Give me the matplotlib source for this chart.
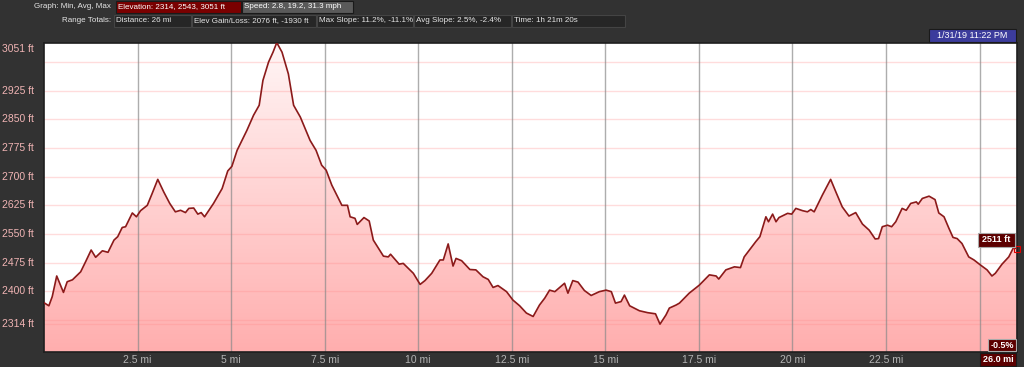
import matplotlib
matplotlib.use('Agg')
import matplotlib.pyplot as plt
import numpy as np
from matplotlib.patches import Rectangle, Polygon
from matplotlib.colors import LinearSegmentedColormap
import matplotlib.transforms as mtransforms

# elevation profile
miles = [0.00, 0.13, 0.22, 0.34, 0.52, 0.62, 0.76, 0.98, 1.11, 1.26, 1.38, 1.56, 1.71, 1.87,
         1.97, 2.09, 2.18, 2.36, 2.47, 2.58, 2.76, 2.89, 3.04, 3.20, 3.36, 3.51, 3.65, 3.78,
         3.87, 4.00, 4.11, 4.20, 4.29, 4.53, 4.76, 4.91, 5.02, 5.16, 5.29, 5.42, 5.60, 5.75,
         5.85, 6.00, 6.12, 6.22, 6.36, 6.53, 6.67, 6.85, 7.11, 7.27, 7.42, 7.54, 7.69, 7.96,
         8.11, 8.18, 8.31, 8.37, 8.55, 8.69, 8.80, 9.07, 9.20, 9.26, 9.49, 9.60, 9.87, 10.05,
         10.18, 10.36, 10.58, 10.67, 10.80, 10.93, 11.01, 11.16, 11.38, 11.54, 11.73, 11.87,
         12.00, 12.13, 12.36, 12.53, 12.71, 12.89, 13.07, 13.24, 13.38, 13.51, 13.65, 13.78,
         13.91, 14.00, 14.13, 14.27, 14.44, 14.62, 14.84, 15.02, 15.16, 15.27, 15.42, 15.51,
         15.65, 15.91, 16.13, 16.34, 16.46, 16.62, 16.71, 16.89, 16.98, 17.24, 17.51, 17.78,
         17.96, 18.03, 18.22, 18.45, 18.61, 18.71, 19.02, 19.13, 19.29, 19.36, 19.47, 19.56,
         19.64, 19.87, 19.98, 20.09, 20.27, 20.40, 20.49, 20.58, 20.80, 21.02, 21.16, 21.33,
         21.51, 21.69, 21.87, 22.05, 22.21, 22.30, 22.40, 22.54, 22.65, 22.76, 22.93, 23.04,
         23.16, 23.31, 23.36, 23.47, 23.65, 23.81, 23.91, 24.05, 24.18, 24.29, 24.40, 24.53,
         24.71, 24.85, 25.02, 25.20, 25.33, 25.42, 25.60, 25.78, 25.91, 26.00]
elev = [2370, 2362, 2386, 2440, 2397, 2425, 2430, 2451, 2477, 2508, 2489, 2506, 2502, 2534,
        2543, 2567, 2569, 2605, 2595, 2611, 2625, 2656, 2693, 2660, 2630, 2608, 2612, 2606,
        2617, 2618, 2602, 2606, 2595, 2630, 2669, 2715, 2727, 2769, 2795, 2821, 2861, 2887,
        2952, 3000, 3026, 3051, 3026, 2969, 2887, 2856, 2795, 2769, 2730, 2717, 2678, 2625,
        2625, 2595, 2591, 2575, 2593, 2584, 2534, 2492, 2490, 2497, 2471, 2473, 2447, 2418,
        2428, 2447, 2482, 2482, 2524, 2466, 2486, 2480, 2457, 2456, 2438, 2431,
        2410, 2415, 2399, 2377, 2362, 2343, 2334, 2364, 2382, 2403, 2399, 2410,
        2421, 2395, 2428, 2424, 2402, 2389, 2399, 2403, 2399, 2369, 2373, 2390,
        2362, 2349, 2344, 2341, 2314, 2338, 2356, 2364, 2369, 2395, 2416, 2443,
        2440, 2432, 2456, 2464, 2462, 2490, 2530, 2543, 2595, 2582, 2602, 2582,
        2593, 2604, 2602, 2617, 2611, 2608, 2614, 2608, 2652, 2693, 2660, 2621,
        2597, 2606, 2576, 2560, 2537, 2538, 2569, 2573, 2569, 2582, 2617, 2612,
        2630, 2634, 2628, 2643, 2649, 2640, 2605, 2595, 2565, 2541, 2538, 2525,
        2490, 2482, 2469, 2456, 2440, 2447, 2471, 2490, 2515, 2511]

x_ticks = [2.5, 5, 7.5, 10, 12.5, 15, 17.5, 20, 22.5]
x_labels = ['2.5 mi', '5 mi', '7.5 mi', '10 mi', '12.5 mi', '15 mi', '17.5 mi', '20 mi', '22.5 mi']
y_labels_at = [3051, 2925, 2850, 2775, 2700, 2625, 2550, 2475, 2400, 2314]
y_grid = [2325, 2400, 2475, 2550, 2625, 2700, 2775, 2850, 2925, 3000]
x_grid = [2.5, 5, 7.5, 10, 12.5, 15, 17.5, 20, 22.5, 25]

row1 = [('Elevation: 2314, 2543, 3051 ft', 116, 241, '#7a0000'),
        ('Speed: 2.8, 19.2, 31.3 mph', 242, 353, '#5a5a5a')]
row2 = [('Distance: 26 mi', 114, 191), ('Elev Gain/Loss: 2076 ft, -1930 ft', 192, 316),
        ('Max Slope: 11.2%, -11.1%', 317, 413), ('Avg Slope: 2.5%, -2.4%', 414, 511),
        ('Time: 1h 21m 20s', 512, 625)]

W, H = 1024, 367
BG = '#323232'
FONT = ['Liberation Sans', 'DejaVu Sans']
HEAD_SIZE = 5.8

fig = plt.figure(figsize=(W / 100, H / 100), dpi=100, facecolor=BG)


def fx(p):
    return p / W


def fy(p):
    return 1 - p / H


def box(x0, x1, y0, y1, fc, ec='#1a1a1a'):
    fig.patches.append(Rectangle((fx(x0), fy(y1)), fx(x1 - x0), (y1 - y0) / H,
                                 transform=fig.transFigure, facecolor=fc, edgecolor=ec, lw=0.8))


ax = fig.add_axes([fx(44), fy(352), fx(1017 - 44), (352 - 43) / H])
ax.set_facecolor('white')
ax.set_xlim(0, 26)
ax.set_ylim(2241, 3050)

# gradient fill under the profile
cmap = LinearSegmentedColormap.from_list('pink', ['#ffaeae', '#fff6f6'])
grad = np.linspace(0, 1, 256).reshape(-1, 1)
img = ax.imshow(grad, cmap=cmap, origin='lower', aspect='auto',
                extent=[0, 26, 2241, 3050], zorder=1)
poly = Polygon(list(zip(miles, elev)) + [(26, 2241), (0, 2241)], closed=True,
               facecolor='none', edgecolor='none')
ax.add_patch(poly)
img.set_clip_path(poly)

for g in y_grid + [2314]:
    ax.axhline(g, color='#ff8c8c', alpha=0.3, lw=1, zorder=2)
for g in x_grid:
    ax.axvline(g, color='#8a8a8a', alpha=0.7, lw=1, zorder=2)

ax.plot(miles, elev, color='#8b1a1a', lw=1.2, zorder=3)
ax.plot([miles[-1]], [elev[-1]], marker='s', ms=5, mfc='none', mec='#e00000', mew=0.8,
        zorder=4, clip_on=False)

ax.set_xticks([])
ax.set_yticks([])
for s in ax.spines.values():
    s.set_color('#1e1e1e')
    s.set_linewidth(1.2)

# axis labels
tr_x = mtransforms.blended_transform_factory(ax.transData, fig.transFigure)
for t, lab in zip(x_ticks, x_labels):
    fig.text(t, fy(360), lab, transform=tr_x, ha='center', va='center',
             color='#b4b4b4', fontsize=7.5, family=FONT)

tr_y = mtransforms.blended_transform_factory(fig.transFigure, ax.transData)
for v in y_labels_at:
    if v == 3051:
        fig.text(fx(2), fy(49), '%d ft' % v, ha='left', va='center',
                 color='#f0b4b4', fontsize=7.5, family=FONT)
    else:
        fig.text(fx(2), v, '%d ft' % v, transform=tr_y, ha='left', va='center',
                 color='#f0b4b4', fontsize=7.5, family=FONT)

# header
fig.text(fx(111), fy(7), 'Graph: Min, Avg, Max', ha='right', va='center',
         color='#e6e6e6', fontsize=HEAD_SIZE, family=FONT)
fig.text(fx(111), fy(21), 'Range Totals:', ha='right', va='center',
         color='#e6e6e6', fontsize=HEAD_SIZE, family=FONT)
for lab, a, b, fc in row1:
    box(a, b, 1, 13, fc)
    fig.text(fx(a + 2.5), fy(7), lab, ha='left', va='center', color='white',
             fontsize=HEAD_SIZE, family=FONT)
for lab, a, b in row2:
    box(a, b, 15, 27, '#262626', '#444444')
    fig.text(fx(a + 2), fy(21), lab, ha='left', va='center', color='#e6e6e6',
             fontsize=HEAD_SIZE, family=FONT)

# markers on the right
box(929, 1016, 29, 42, '#3c3c9c', '#1a1a1a')
fig.text(fx(972), fy(35.5), '1/31/19 11:22 PM', ha='center', va='center', color='white',
         fontsize=6.5, family=FONT)
box(978, 1015, 233, 247, '#5c0000', '#aaaaaa')
fig.text(fx(996.5), fy(240), '2511 ft', ha='center', va='center', color='white',
         fontsize=6.5, family=FONT, fontweight='bold')
box(988, 1016, 339, 351, '#5c0000', '#aaaaaa')
fig.text(fx(1002), fy(345), '-0.5%', ha='center', va='center', color='white',
         fontsize=6.5, family=FONT, fontweight='bold')
box(980, 1016, 353, 366, '#5c0000', '#1a1a1a')
fig.text(fx(998), fy(359.5), '26.0 mi', ha='center', va='center', color='white',
         fontsize=6.5, family=FONT, fontweight='bold')

fig.savefig('out.png', dpi=100, facecolor=BG)
